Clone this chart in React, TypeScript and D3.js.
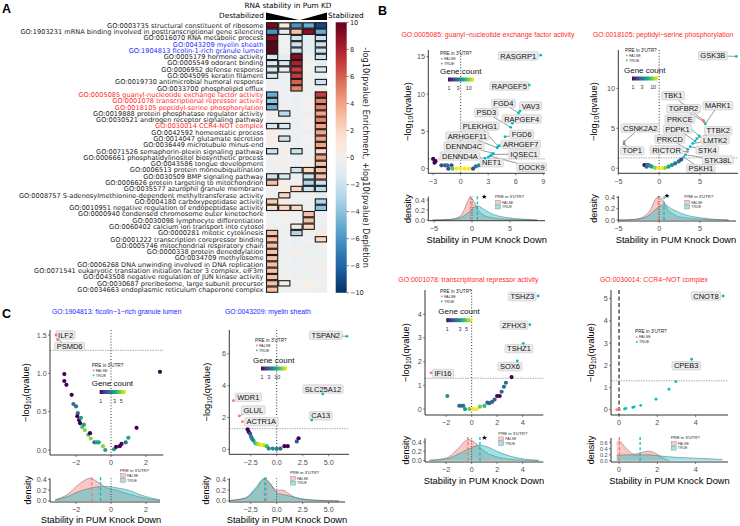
import React from 'react';
import * as d3 from 'd3';

const FALSE_COLOR = '#F8766D';
const TRUE_COLOR = '#00BFC4';
const SANS = '"Liberation Sans", Arial, sans-serif';
const DEJAVU = '"DejaVu Sans", sans-serif';
const RED_TXT = '#ff2a2a';
const BLUE_TXT = '#2626ff';

// ---------------- Panel A data ----------------
const goTerms: string[] = [
  'GO:0003735 structural constituent of ribosome',
  'GO:1903231 mRNA binding involved in posttranscriptional gene silencing',
  'GO:0016070 RNA metabolic process',
  'GO:0043209 myelin sheath',
  'GO:1904813 ficolin-1-rich granule lumen',
  'GO:0005179 hormone activity',
  'GO:0005549 odorant binding',
  'GO:0006952 defense response',
  'GO:0045095 keratin filament',
  'GO:0019730 antimicrobial humoral response',
  'GO:0033700 phospholipid efflux',
  'GO:0005085 guanyl-nucleotide exchange factor activity',
  'GO:0001078 transcriptional repressor activity',
  'GO:0018105 peptidyl-serine phosphorylation',
  'GO:0019888 protein phosphatase regulator activity',
  'GO:0030521 androgen receptor signaling pathway',
  'GO:0030014 CCR4-NOT complex',
  'GO:0042592 homeostatic process',
  'GO:0014047 glutamate secretion',
  'GO:0036449 microtubule minus-end',
  'GO:0071526 semaphorin-plexin signaling pathway',
  'GO:0006661 phosphatidylinositol biosynthetic process',
  'GO:0043586 tongue development',
  'GO:0006513 protein monoubiquitination',
  'GO:0030509 BMP signaling pathway',
  'GO:0006626 protein targeting to mitochondrion',
  'GO:0035577 azurophil granule membrane',
  'GO:0008757 S-adenosylmethionine-dependent methyltransferase activity',
  'GO:0004180 carboxypeptidase activity',
  'GO:0010951 negative regulation of endopeptidase activity',
  'GO:0000940 condensed chromosome outer kinetochore',
  'GO:0030098 lymphocyte differentiation',
  'GO:0060402 calcium ion transport into cytosol',
  'GO:0000281 mitotic cytokinesis',
  'GO:0001222 transcription corepressor binding',
  'GO:0005746 mitochondrial respiratory chain',
  'GO:0000338 protein deneddylation',
  'GO:0034709 methylosome',
  'GO:0006268 DNA unwinding involved in DNA replication',
  'GO:0071541 eukaryotic translation initiation factor 3 complex, eIF3m',
  'GO:0043508 negative regulation of JUN kinase activity',
  'GO:0030687 preribosome, large subunit precursor',
  'GO:0034663 endoplasmic reticulum chaperone complex',
];
const redTermRows = [11, 12, 13, 16];
const blueTermRows = [3, 4];

const heatValues: number[][] = [
  [9.5, 1, -6, -5, -9],
  [-6, -1, 3, 9, -5],
  [9, -0.3, -2, -1, -2],
  [10, -0.3, -2, -1, -2],
  [10, -0.3, -2, -1, -2],
  [-1.5, -1, 9, -0.3, -2],
  [-1.5, -1.5, 8, 0, -1],
  [-1.5, -0.5, 7, -0.3, -1.5],
  [-1.5, -0.5, 7, -0.3, -0.5],
  [-0.5, -0.5, 6, -0.3, -2],
  [-0.3, -0.5, 5, -0.3, -0.5],
  [-5, -0.3, -0.5, -0.5, 7],
  [-4, -0.3, -0.5, 0, 5],
  [-5, -0.3, -0.5, 0, 5],
  [0.5, -2.5, -0.3, -0.5, 4],
  [-0.3, -0.3, -0.5, 0, 5],
  [-1.5, -1.5, -0.3, 0, 4],
  [0.5, -0.3, -0.5, -0.5, 4],
  [0.5, -2, -0.5, 0, 4],
  [0.5, -0.3, -0.5, -0.3, 4],
  [-2, 0.5, -2, -0.5, 2],
  [-0.3, -0.3, -0.5, -0.5, 4],
  [-0.3, 0.5, -0.5, 0.5, 3],
  [-0.3, -0.5, -2, 2, 3],
  [-2, -1.5, -0.3, -2, 3],
  [3, 0.5, -0.3, -3, -2],
  [-0.3, 0.5, 2, -2, -2.5],
  [-0.3, 2, -0.3, -0.3, -1],
  [2.5, 0.5, -0.3, -0.3, -3],
  [1.5, 2, 2, -0.3, -4],
  [-0.3, 0.5, -0.3, 3, -0.5],
  [-0.3, -0.3, -0.3, 3, -0.5],
  [-0.3, -0.3, 0.5, 2, -0.5],
  [3, -0.3, -3, -0.3, 1],
  [3, -0.3, -0.5, -0.3, 2],
  [3, -0.3, -0.5, -0.5, -0.3],
  [3, -0.3, 0.5, -0.5, -0.5],
  [3, -0.3, -0.5, -0.3, -0.5],
  [3, -0.3, -0.5, -0.3, -0.5],
  [3, -0.3, -0.3, -0.3, 0.5],
  [3, -0.3, -0.5, -0.3, -0.5],
  [3, 0.5, -0.3, 0.5, -0.3],
  [3, -0.3, -0.3, 0.5, -0.5],
];
const heatSignificant: number[][] = [
  [1, 1, 1, 1, 1],
  [1, 1, 1, 1, 1],
  [1, 0, 1, 0, 1],
  [1, 0, 1, 0, 1],
  [1, 0, 1, 0, 1],
  [1, 0, 1, 0, 1],
  [1, 1, 1, 0, 0],
  [1, 1, 1, 0, 1],
  [1, 0, 1, 0, 0],
  [0, 0, 1, 0, 1],
  [0, 0, 1, 0, 0],
  [1, 0, 0, 0, 1],
  [1, 0, 0, 0, 1],
  [1, 0, 0, 0, 1],
  [0, 1, 0, 0, 1],
  [0, 0, 0, 0, 1],
  [1, 1, 0, 0, 1],
  [0, 0, 0, 0, 1],
  [0, 1, 0, 0, 1],
  [0, 0, 0, 0, 1],
  [1, 0, 1, 0, 1],
  [0, 0, 0, 0, 1],
  [0, 0, 0, 0, 1],
  [0, 0, 1, 1, 1],
  [1, 1, 0, 1, 1],
  [1, 0, 0, 1, 1],
  [0, 0, 1, 1, 1],
  [0, 1, 0, 0, 0],
  [1, 0, 0, 0, 1],
  [1, 1, 1, 0, 1],
  [0, 0, 0, 1, 0],
  [0, 0, 0, 1, 0],
  [0, 0, 1, 1, 0],
  [1, 0, 1, 0, 0],
  [1, 0, 0, 0, 1],
  [1, 0, 0, 0, 0],
  [1, 0, 0, 0, 0],
  [1, 0, 0, 0, 0],
  [1, 0, 0, 0, 0],
  [1, 0, 0, 0, 0],
  [1, 0, 0, 0, 0],
  [1, 1, 0, 0, 0],
  [1, 0, 0, 0, 0],
];
const heatColorTicks = [10, 8, 6, 4, 2, 0, -2, -4, -6, -8, -10];

// ---------------- Panel B / C data ----------------
type Gene = { gene: string; x: number; y: number; pre: boolean; lx: number; ly: number };
type CountPt = [number, number, number];
type PrePt = [number, number, boolean];
type DPt = [number, number];

const titleB1 = 'GO:0005085: guanyl\u2212nucleotide exchange factor activity';
const titleB2 = 'GO:0018105: peptidyl\u2212serine phosphorylation';
const titleB3 = 'GO:0001078: transcriptional repressor activity';
const titleB4 = 'GO:0030014: CCR4\u2212NOT complex';
const titleC1 = 'GO:1904813: ficolin\u22121\u2212rich granule lumen';
const titleC2 = 'GO:0043209: myelin sheath';

// B1: guanyl-nucleotide exchange factor activity
const b1Counts: CountPt[] = [
  [-3.0, 1.3, 1], [-2.75, 1.0, 1], [-2.85, 0.8, 1], [-2.1, 0.45, 2], [-1.7, 0.45, 2], [-1.45, 0.45, 3],
  [-1.0, 0.45, 2], [-1.35, 0.0, 2], [-0.9, 0.0, 8], [-0.45, 0.0, 18], [0.0, 0.0, 18], [0.45, 0.0, 18],
  [0.9, 0.0, 18], [1.35, 0.0, 2], [1.65, 0.3, 3], [2.0, 0.45, 4], [2.3, 0.5, 4], [2.6, 0.7, 3], [2.9, 0.9, 4],
];
const b1Genes: Gene[] = [
  { gene: 'RASGRP1', x: 8.72, y: 15.2, pre: true, lx: 6.28, ly: 15.1 },
  { gene: 'RAPGEF5', x: 7.48, y: 11.2, pre: true, lx: 5.3, ly: 11.07 },
  { gene: 'VAV3', x: 6.45, y: 7.7, pre: true, lx: 7.63, ly: 8.4 },
  { gene: 'FGD4', x: 6.3, y: 7.45, pre: true, lx: 4.65, ly: 8.75 },
  { gene: 'RAPGEF4', x: 5.63, y: 6.07, pre: true, lx: 6.65, ly: 6.65 },
  { gene: 'PSD3', x: 5.45, y: 5.54, pre: true, lx: 2.8, ly: 7.5 },
  { gene: 'FGD6', x: 4.83, y: 4.28, pre: true, lx: 6.65, ly: 4.6 },
  { gene: 'PLEKHG1', x: 4.1, y: 3.0, pre: true, lx: 2.1, ly: 5.7 },
  { gene: 'ARHGEF11', x: 3.98, y: 2.8, pre: true, lx: 0.72, ly: 4.38 },
  { gene: 'ARHGEF7', x: 4.2, y: 3.1, pre: true, lx: 6.54, ly: 3.26 },
  { gene: 'DENND4C', x: 3.56, y: 2.06, pre: true, lx: 0.36, ly: 3.04 },
  { gene: 'IQSEC1', x: 3.4, y: 1.9, pre: true, lx: 6.9, ly: 1.97 },
  { gene: 'DENND4A', x: 2.65, y: 1.4, pre: true, lx: -0.08, ly: 1.7 },
  { gene: 'NET1', x: 3.0, y: 1.55, pre: true, lx: 3.38, ly: 0.8 },
  { gene: 'DOCK9', x: 3.2, y: 1.7, pre: true, lx: 7.74, ly: 0.19 },
];
const b1DensFalse: DPt[] = [[-5.2, 0], [-3, 0.01], [-2, 0.04], [-1.2, 0.15], [-0.6, 0.36], [-0.25, 0.45], [0.2, 0.38], [0.8, 0.2], [1.5, 0.1], [2.5, 0.05], [4, 0.02], [6, 0.01], [8.6, 0]];
const b1DensTrue: DPt[] = [[-5.2, 0], [-3, 0.01], [-1.5, 0.05], [-0.5, 0.15], [0.3, 0.26], [0.8, 0.28], [1.5, 0.22], [2.5, 0.13], [3.5, 0.08], [5, 0.04], [7, 0.015], [8.6, 0]];

// B2: peptidyl-serine phosphorylation
const b2Counts: CountPt[] = [
  [-1.8, 0.4, 1], [-1.5, 0.4, 2], [-1.55, 0.2, 3], [-1.3, 0.4, 3], [-1.1, 0.3, 4], [-0.9, 0.2, 5], [-0.5, 0.05, 10],
  [-0.1, 0, 17], [0.33, 0, 17], [0.74, 0.05, 10], [1.15, 0.2, 5], [1.56, 0.4, 4], [1.96, 0.6, 3], [2.4, 0.85, 3], [2.7, 1.1, 2],
];
const b2Genes: Gene[] = [
  { gene: 'GSK3B', x: 9.45, y: 14.0, pre: true, lx: 6.57, ly: 14.08 },
  { gene: 'TBK1', x: 5.4, y: 6.0, pre: false, lx: 1.71, ly: 9.08 },
  { gene: 'TGFBR2', x: 5.5, y: 5.8, pre: false, lx: 2.98, ly: 7.45 },
  { gene: 'MARK1', x: 5.65, y: 5.55, pre: true, lx: 7.18, ly: 7.83 },
  { gene: 'PRKCE', x: 4.9, y: 4.04, pre: true, lx: 2.53, ly: 6.16 },
  { gene: 'CSNK2A2', x: -4.28, y: 3.33, pre: false, lx: -2.33, ly: 5.04 },
  { gene: 'PDPK1', x: 4.4, y: 3.4, pre: true, lx: 2.24, ly: 4.91 },
  { gene: 'TTBK2', x: 4.6, y: 3.7, pre: true, lx: 7.22, ly: 4.7 },
  { gene: 'PRKCD', x: 3.5, y: 2.37, pre: true, lx: 1.31, ly: 3.66 },
  { gene: 'LMTK2', x: 4.1, y: 3.1, pre: true, lx: 6.85, ly: 3.54 },
  { gene: 'TOP1', x: -4.3, y: 3.05, pre: true, lx: -3.3, ly: 2.2 },
  { gene: 'RICTOR', x: 3.46, y: 2.08, pre: false, lx: 0.9, ly: 2.29 },
  { gene: 'STK4', x: 3.8, y: 2.7, pre: true, lx: 5.9, ly: 2.29 },
  { gene: 'STK38L', x: 3.2, y: 1.7, pre: true, lx: 7.18, ly: 1.04 },
  { gene: 'PSKH1', x: 3.0, y: 1.4, pre: true, lx: 5.1, ly: -0.05 },
];
const b2DensFalse: DPt[] = [[-5, 0], [-3, 0.01], [-2, 0.05], [-1, 0.2], [-0.4, 0.38], [0, 0.42], [0.4, 0.36], [1, 0.2], [2, 0.08], [3, 0.04], [5, 0.015], [8.5, 0]];
const b2DensTrue: DPt[] = [[-5, 0], [-3, 0.01], [-1.5, 0.06], [-0.5, 0.18], [0.3, 0.26], [0.7, 0.27], [1.5, 0.2], [2.5, 0.13], [3.5, 0.08], [5, 0.04], [7, 0.01], [8.5, 0]];

// B3: transcriptional repressor activity
const b3Counts: CountPt[] = [
  [-1.91, 0.55, 3], [-0.97, 0.14, 2], [-0.8, 0.14, 2], [-0.66, 0.14, 2], [-0.52, 0, 3], [-0.18, 0, 5], [0.13, 0, 8],
  [0.39, 0, 8], [0.65, 0.1, 5], [1.0, 0.13, 4], [1.23, 0.27, 2], [1.39, 0.25, 2], [1.6, 0.3, 2], [1.8, 0.4, 2],
  [2.0, 0.55, 1], [2.2, 0.55, 1], [2.35, 0.73, 2], [2.53, 0.94, 2], [2.69, 1.11, 2], [3.13, 1.35, 1],
];
const b3Genes: Gene[] = [
  { gene: 'TSHZ3', x: 5.22, y: 4.77, pre: true, lx: 3.97, ly: 4.74 },
  { gene: 'ZFHX3', x: 4.57, y: 3.56, pre: true, lx: 3.32, ly: 3.54 },
  { gene: 'TSHZ1', x: 4.05, y: 2.77, pre: true, lx: 3.71, ly: 2.55 },
  { gene: 'SOX6', x: 3.58, y: 2.03, pre: true, lx: 3.0, ly: 1.79 },
  { gene: 'IFI16', x: -3.19, y: 1.53, pre: false, lx: -2.25, ly: 1.5 },
];
const b3DensFalse: DPt[] = [[-3.3, 0.01], [-2.5, 0.03], [-1.8, 0.08], [-1, 0.28], [-0.4, 0.44], [-0.2, 0.45], [0.3, 0.38], [1, 0.2], [2, 0.08], [3, 0.03], [4, 0.01], [5.2, 0]];
const b3DensTrue: DPt[] = [[-3.3, 0.01], [-2.5, 0.02], [-1.8, 0.05], [-1, 0.15], [0, 0.28], [0.6, 0.33], [1.2, 0.3], [2, 0.2], [3, 0.1], [4, 0.04], [5.3, 0.01]];

// B4: CCR4-NOT complex
const b4Points: PrePt[] = [
  [2.97, 1.26, true], [2.61, 0.92, true], [1.93, 0.47, true], [1.13, 0.19, true], [0.79, 0.13, true],
  [0.72, 0.1, true], [0.36, 0.06, true], [0.29, 0.03, true], [-0.12, 0, false], [0.02, 0, false],
];
const b4Genes: Gene[] = [
  { gene: 'CNOT8', x: 5.44, y: 5.12, pre: true, lx: 4.54, ly: 5.12 },
  { gene: 'CPEB3', x: 3.79, y: 2.27, pre: true, lx: 3.51, ly: 1.98 },
];
const b4DensFalse: DPt[] = [[-0.12, 0.6], [0, 0.66], [0.3, 0.46], [0.8, 0.22], [1.2, 0.28], [1.5, 0.32], [1.9, 0.25], [2.3, 0.08], [2.6, 0.01]];
const b4DensTrue: DPt[] = [[-0.12, 0.18], [0.5, 0.2], [1, 0.19], [1.5, 0.2], [2, 0.17], [2.6, 0.13], [3.5, 0.1], [4.5, 0.07], [5.4, 0.04]];

// C1: ficolin-1-rich granule lumen
const c1Counts: CountPt[] = [
  [-2.67, 0.99, 1], [-2.67, 0.9, 1], [-2.55, 0.85, 1], [-2.25, 0.72, 1], [-2.15, 0.6, 2], [-2.0, 0.57, 2],
  [-1.9, 0.48, 2], [-1.93, 0.44, 1], [-1.83, 0.39, 1], [-1.77, 0.35, 1], [-1.72, 0.42, 3], [-1.65, 0.3, 4],
  [-1.55, 0.33, 3], [-1.5, 0.26, 5], [-1.3, 0.2, 4], [-1.2, 0.22, 1], [-1.16, 0.15, 5], [-0.95, 0.1, 2],
  [-0.8, 0.1, 3], [-0.7, 0.1, 3], [-0.46, 0.05, 5], [-0.33, 0.0, 3], [0.17, 0.01, 3], [0.29, 0.04, 1],
  [0.5, 0.05, 1], [0.6, 0.08, 1], [0.84, 0.1, 2], [0.99, 0.16, 3], [1.46, 0.29, 1], [2.8, 1.02, 1],
];
const c1Genes: Gene[] = [
  { gene: 'ILF2', x: -3.15, y: 1.5, pre: false, lx: -2.6, ly: 1.5 },
  { gene: 'PSMD6', x: -3.05, y: 1.44, pre: false, lx: -2.37, ly: 1.35 },
];
const c1DensFalse: DPt[] = [[-3.2, 0.02], [-2.5, 0.12], [-1.8, 0.32], [-1.2, 0.42], [-0.8, 0.36], [-0.3, 0.25], [0.3, 0.2], [1, 0.13], [1.8, 0.06], [2.8, 0.01]];
const c1DensTrue: DPt[] = [[-3.2, 0.02], [-2.5, 0.08], [-1.8, 0.18], [-1, 0.25], [-0.3, 0.27], [0.4, 0.24], [1, 0.2], [1.8, 0.1], [2.8, 0.02]];

// C2: myelin sheath
const c2Counts: CountPt[] = [
  [-2.8, 1.26, 1], [-2.7, 1.1, 1], [-2.56, 0.98, 2], [-2.47, 0.8, 5], [-2.35, 0.65, 4], [-2.25, 0.55, 6],
  [-2.05, 0.38, 13], [-1.85, 0.33, 20], [-1.67, 0.3, 30], [-1.4, 0.28, 40], [-1.19, 0.25, 30], [-0.96, 0.2, 13],
  [-0.77, 0.05, 6], [-0.38, 0.05, 6], [0.0, 0.03, 5], [0.35, 0.05, 4], [0.74, 0.2, 1], [1.06, 0.2, 1],
  [1.93, 0.5, 3], [2.1, 0.7, 1],
];
const c2Genes: Gene[] = [
  { gene: 'TSPAN2', x: 6.75, y: 7.1, pre: true, lx: 4.71, ly: 7.17 },
  { gene: 'SLC25A12', x: 4.42, y: 3.48, pre: true, lx: 4.45, ly: 3.79 },
  { gene: 'CA13', x: 3.37, y: 1.84, pre: true, lx: 4.23, ly: 2.11 },
  { gene: 'WDR1', x: -4.17, y: 3.06, pre: false, lx: -2.73, ly: 3.27 },
  { gene: 'GLUL', x: -3.6, y: 2.1, pre: false, lx: -2.25, ly: 2.47 },
  { gene: 'ACTR1A', x: -3.3, y: 1.74, pre: false, lx: -1.48, ly: 1.74 },
];
const c2DensFalse: DPt[] = [[-4.5, 0.01], [-3, 0.05], [-2, 0.22], [-1.2, 0.4], [-0.7, 0.33], [0, 0.2], [0.6, 0.2], [1.2, 0.13], [2, 0.05], [3, 0.02], [4.5, 0.01], [6, 0]];
const c2DensTrue: DPt[] = [[-4.5, 0.01], [-3, 0.06], [-2, 0.25], [-1.2, 0.42], [-0.6, 0.32], [0, 0.15], [0.6, 0.12], [1.5, 0.08], [2.5, 0.04], [4, 0.01], [6, 0]];

// ---------------- helpers ----------------
let _ctx: CanvasRenderingContext2D | null = null;
function textWidth(s: string, size: number, family = SANS): number {
  if (!_ctx) _ctx = document.createElement('canvas').getContext('2d');
  if (!_ctx) return s.length * size * 0.6;
  _ctx.font = `${size}px ${family}`;
  return _ctx.measureText(s).width;
}
function fmt(v: number, digits = 0): string {
  const s = digits ? Math.abs(v).toFixed(digits) : String(Math.abs(v));
  return v < 0 ? '\u2212' + s : s;
}
const TICK_COL = '#4d4d4d';

type AxisProps = {
  xs: d3.ScaleLinear<number, number>; ys: d3.ScaleLinear<number, number>;
  frame: [number, number, number, number];
  xTicks: number[]; yTicks: number[]; xDigits?: number; yDigits?: number; yFont?: number;
};
function Axes({ xs, ys, frame, xTicks, yTicks, xDigits = 0, yDigits = 0, yFont = 7.2 }: AxisProps) {
  const [x0, x1, y0, y1] = frame;
  return (
    <g fontFamily={SANS}>
      <line x1={x0} x2={x0} y1={y0} y2={y1} stroke="#000" strokeWidth={0.8} />
      <line x1={x0} x2={x1} y1={y1} y2={y1} stroke="#000" strokeWidth={0.8} />
      {yTicks.map((t) => (
        <g key={'y' + t}>
          <line x1={x0 - 2} x2={x0} y1={ys(t)} y2={ys(t)} stroke="#333" strokeWidth={0.6} />
          <text x={x0 - 3.3} y={ys(t) + yFont * 0.35} fontSize={yFont} fill={TICK_COL} textAnchor="end">{fmt(t, yDigits)}</text>
        </g>
      ))}
      {xTicks.map((t) => (
        <g key={'x' + t}>
          <line x1={xs(t)} x2={xs(t)} y1={y1} y2={y1 + 2} stroke="#333" strokeWidth={0.6} />
          <text x={xs(t)} y={y1 + 10.3} fontSize={7.2} fill={TICK_COL} textAnchor="middle">{fmt(t, xDigits)}</text>
        </g>
      ))}
    </g>
  );
}

type ScatterProps = {
  title: string; titleColor: string; titleX: number; titleY: number;
  frame: [number, number, number, number];
  xDomain: [number, number]; yDomain: [number, number];
  xTicks: number[]; yTicks: number[]; xDigits?: number; yDigits?: number;
  counts?: CountPt[]; countMax?: number; countLabels?: number[];
  prePoints?: PrePt[];
  genes: Gene[];
  zeroDashed?: boolean;
  yTitleX: number;
  preLegend: [number, number];
  countLegend?: [number, number];
};

function ScatterPanel(p: ScatterProps) {
  const [x0, x1, y0, y1] = p.frame;
  const xs = d3.scaleLinear().domain(p.xDomain).range([x0, x1]);
  const ys = d3.scaleLinear().domain(p.yDomain).range([y1, y0]);
  const cmax = p.countMax || 10;
  const cpos = (c: number) => Math.log(c) / Math.log(cmax);
  const ccol = (c: number) => d3.interpolateViridis(Math.min(1, cpos(c)));
  const LFS = 7.5;
  const boxes = p.genes.map((g) => {
    const w = textWidth(g.gene, LFS) + 4;
    const h = 8.4;
    const cx = xs(g.lx), cy = ys(g.ly);
    const px = xs(g.x), py = ys(g.y);
    const dx = px - cx, dy = py - cy;
    const s = Math.max(Math.abs(dx) / (w / 2), Math.abs(dy) / (h / 2));
    let seg: [number, number, number, number] | null = null;
    if (s > 1) {
      const ex = cx + dx / s, ey = cy + dy / s;
      const dist = Math.hypot(px - ex, py - ey);
      if (dist > 4) seg = [px, py, ex, ey];
    }
    return { g, w, h, cx, cy, px, py, seg };
  });
  return (
    <g>
      <text x={p.titleX} y={p.titleY} fontSize={6.9} fill={p.titleColor} fontFamily={SANS}>{p.title}</text>
      <line x1={x0} x2={x1} y1={ys(1.3)} y2={ys(1.3)} stroke="#666" strokeWidth={0.6} strokeDasharray="1.4,1.1" />
      {p.zeroDashed ? (
        <line x1={xs(0)} x2={xs(0)} y1={y0} y2={y1} stroke="#444" strokeWidth={1.4} strokeDasharray="4,2.5" />
      ) : (
        <line x1={xs(0)} x2={xs(0)} y1={y0} y2={y1} stroke="#000" strokeWidth={0.9} strokeDasharray="0.9,2" />
      )}
      {(p.counts || []).map((c, i) => (
        <circle key={'c' + i} cx={xs(c[0])} cy={ys(c[1])} r={2.1} fill={ccol(c[2])} />
      ))}
      {(p.prePoints || []).map((c, i) => (
        <circle key={'p' + i} cx={xs(c[0])} cy={ys(c[1])} r={1.4} fill={c[2] ? TRUE_COLOR : FALSE_COLOR} />
      ))}
      {boxes.map((b, i) => b.seg ? (
        <line key={'s' + i} x1={b.seg[0]} y1={b.seg[1]} x2={b.seg[2]} y2={b.seg[3]} stroke="#333" strokeWidth={0.5} />
      ) : null)}
      {boxes.map((b, i) => (
        <g key={'b' + i}>
          <rect x={b.cx - b.w / 2} y={b.cy - b.h / 2} width={b.w} height={b.h} rx={1.3} fill="#ebebeb" stroke="#bdbdbd" strokeWidth={0.5} />
          <text x={b.cx} y={b.cy + 2.7} fontSize={LFS} textAnchor="middle" fontFamily={SANS} fill="#111">{b.g.gene}</text>
        </g>
      ))}
      {boxes.map((b, i) => (
        <circle key={'g' + i} cx={b.px} cy={b.py} r={1.4} fill={b.g.pre ? TRUE_COLOR : FALSE_COLOR} />
      ))}
      <Axes xs={xs} ys={ys} frame={p.frame} xTicks={p.xTicks} yTicks={p.yTicks} xDigits={p.xDigits} yDigits={p.yDigits} />
      <text transform={`translate(${p.yTitleX},${(y0 + y1) / 2}) rotate(-90)`} textAnchor="middle" fontSize={9.3} fontFamily={SANS}>
        {'\u2212log'}<tspan fontSize={6.6} dy={2.2}>10</tspan><tspan dy={-2.2}>(qvalue)</tspan>
      </text>
      <g fontFamily={SANS}>
        <text x={p.preLegend[0]} y={p.preLegend[1]} fontSize={4.7} fill="#222">PRE in 3'UTR?</text>
        <circle cx={p.preLegend[0] + 1.8} cy={p.preLegend[1] + 3.7} r={0.9} fill={FALSE_COLOR} />
        <text x={p.preLegend[0] + 4} y={p.preLegend[1] + 5} fontSize={3.8} fill="#333">FALSE</text>
        <circle cx={p.preLegend[0] + 1.8} cy={p.preLegend[1] + 8.6} r={0.9} fill={TRUE_COLOR} />
        <text x={p.preLegend[0] + 4} y={p.preLegend[1] + 9.9} fontSize={3.8} fill="#333">TRUE</text>
      </g>
      {p.countLegend && (
        <g fontFamily={SANS}>
          <text x={p.countLegend[0]} y={p.countLegend[1]} fontSize={8} fill="#111">Gene count</text>
          <rect x={p.countLegend[0] + 8} y={p.countLegend[1] + 4} width={26} height={4} fill="url(#viridisGrad)" />
          {(p.countLabels || []).map((v) => (
            <text key={v} x={p.countLegend![0] + 8 + 26 * cpos(v) + (v === 1 ? 1 : 0)} y={p.countLegend![1] + 16.5} fontSize={5.4} textAnchor="middle" fill="#333">{v}</text>
          ))}
        </g>
      )}
    </g>
  );
}

type DensityProps = {
  frame: [number, number, number, number];
  xDomain: [number, number]; yDomain: [number, number];
  xTicks: number[]; yTicks: number[]; xDigits?: number; yFont?: number;
  dFalse: DPt[]; dTrue: DPt[]; medFalse: number; medTrue: number; star?: number;
  zeroLine?: boolean; legend: [number, number]; yTitleX: number; xTitleX: number; xTitleY: number;
};
function DensityPanel(p: DensityProps) {
  const [x0, x1, y0, y1] = p.frame;
  const xs = d3.scaleLinear().domain(p.xDomain).range([x0, x1]);
  const ys = d3.scaleLinear().domain(p.yDomain).range([y1, y0]);
  const area = d3.area<DPt>().x((d) => xs(d[0])).y0(ys(0)).y1((d) => ys(d[1])).curve(d3.curveMonotoneX);
  const lineF = d3.line<DPt>().x((d) => xs(d[0])).y((d) => ys(d[1])).curve(d3.curveMonotoneX);
  const top = ys(p.yDomain[1]) - 2;
  return (
    <g>
      <path d={area(p.dFalse) || ''} fill={FALSE_COLOR} fillOpacity={0.4} />
      <path d={lineF(p.dFalse) || ''} fill="none" stroke="#444" strokeWidth={0.4} />
      <path d={area(p.dTrue) || ''} fill={TRUE_COLOR} fillOpacity={0.4} />
      <path d={lineF(p.dTrue) || ''} fill="none" stroke="#444" strokeWidth={0.4} />
      {p.zeroLine && <line x1={xs(0)} x2={xs(0)} y1={y0} y2={y1} stroke="#000" strokeWidth={0.8} strokeDasharray="0.8,1.8" />}
      <line x1={xs(p.medFalse)} x2={xs(p.medFalse)} y1={ys(0)} y2={top} stroke={FALSE_COLOR} strokeWidth={1.3} strokeDasharray="3,2.2" />
      <line x1={xs(p.medTrue)} x2={xs(p.medTrue)} y1={ys(0)} y2={top} stroke={TRUE_COLOR} strokeWidth={1.3} strokeDasharray="3,2.2" />
      {p.star !== undefined && (
        <text x={xs(p.star)} y={y0 + 2} fontSize={7} textAnchor="middle" fontFamily={DEJAVU}>{'\u2605'}</text>
      )}
      <Axes xs={xs} ys={ys} frame={p.frame} xTicks={p.xTicks} yTicks={p.yTicks} xDigits={p.xDigits} yDigits={1} yFont={p.yFont || 7.2} />
      <text transform={`translate(${p.yTitleX},${(y0 + y1) / 2}) rotate(-90)`} textAnchor="middle" fontSize={9} fontFamily={SANS}>density</text>
      <text x={p.xTitleX} y={p.xTitleY} textAnchor="middle" fontSize={9.3} fontFamily={SANS}>Stability in PUM Knock Down</text>
      <g fontFamily={SANS}>
        <text x={p.legend[0]} y={p.legend[1]} fontSize={4.3} fill="#222">PRE in 3'UTR?</text>
        <rect x={p.legend[0] + 0.5} y={p.legend[1] + 1.9} width={5} height={4} fill={FALSE_COLOR} fillOpacity={0.4} stroke="#666" strokeWidth={0.3} />
        <text x={p.legend[0] + 7} y={p.legend[1] + 5.2} fontSize={3.6} fill="#333">FALSE</text>
        <rect x={p.legend[0] + 0.5} y={p.legend[1] + 6.7} width={5} height={4} fill={TRUE_COLOR} fillOpacity={0.4} stroke="#666" strokeWidth={0.3} />
        <text x={p.legend[0] + 7} y={p.legend[1] + 10} fontSize={3.6} fill="#333">TRUE</text>
      </g>
    </g>
  );
}

function HeatmapPanel() {
  const x0 = 266, colW = 12.2, y0 = 22.3, rowH = 6.29;
  const nRows = goTerms.length;
  const xs = d3.scaleBand<number>().domain(d3.range(5)).range([x0, x0 + 5 * colW]);
  const ys = d3.scaleBand<number>().domain(d3.range(nRows)).range([y0, y0 + nRows * rowH]);
  const cscale = (v: number) => d3.interpolateRdBu((10 - v) / 20);
  const cbX = 335.7, cbW = 11;
  const cb = d3.scaleLinear().domain([10, -10]).range([y0, y0 + nRows * rowH]);
  const labelColor = (i: number) => (redTermRows.includes(i) ? RED_TXT : blueTermRows.includes(i) ? BLUE_TXT : '#1a1a1a');
  return (
    <g>
      <text x={2} y={13} fontSize={12.5} fontWeight="bold" fontFamily={SANS}>A</text>
      <text x={288} y={7.6} fontSize={7.3} textAnchor="middle" fontFamily={DEJAVU}>RNA stability in Pum KD</text>
      <text x={264} y={17.6} fontSize={7.3} textAnchor="end" fontFamily={DEJAVU}>Destabilized</text>
      <text x={328} y={17.6} fontSize={7.3} fontFamily={DEJAVU}>Stabilized</text>
      <polygon points={`${x0},12.6 ${x0},20 ${x0 + 33},20`} fill="#000" />
      <polygon points={`${x0 + 5 * colW},12.6 ${x0 + 5 * colW},20 ${x0 + 34},20`} fill="#000" />
      {goTerms.map((t, i) => (
        <text key={t} x={263.5} y={(ys(i) || 0) + rowH / 2 + 2.3} fontSize={6.6} textAnchor="end" fontFamily={DEJAVU} fill={labelColor(i)}>{t}</text>
      ))}
      {heatValues.map((row, i) => row.map((v, j) => (
        <rect key={i + '-' + j} x={xs(j)} y={ys(i)} width={xs.bandwidth() + 0.1} height={ys.bandwidth() + 0.1} fill={cscale(v)} />
      )))}
      {heatSignificant.map((row, i) => row.map((s, j) => s ? (
        <rect key={'s' + i + '-' + j} x={(xs(j) || 0) + 0.5} y={(ys(i) || 0) + 0.5} width={xs.bandwidth() - 1} height={ys.bandwidth() - 1} fill="none" stroke="#1a1a1a" strokeWidth={1.1} />
      ) : null))}
      <rect x={cbX} y={y0} width={cbW} height={nRows * rowH} fill="url(#heatGrad)" />
      {heatColorTicks.map((t) => (
        <g key={t}>
          <line x1={cbX + cbW} x2={cbX + cbW + 2} y1={cb(t)} y2={cb(t)} stroke="#222" strokeWidth={0.6} />
          <text x={cbX + cbW + 3.2} y={cb(t) + 2.4} fontSize={6.6} fontFamily={DEJAVU} fill="#222">{fmt(t)}</text>
        </g>
      ))}
      <text transform={`translate(362.5,${y0 + (nRows * rowH) / 2}) rotate(90)`} textAnchor="middle" fontSize={8.2} fontFamily={DEJAVU} fill="#222">-log10(pvalue) Enrichment, +log10(pvalue) Depletion</text>
    </g>
  );
}

export default function App() {
  const heatStops = d3.range(0, 1.0001, 0.05);
  const virStops = d3.range(0, 1.0001, 0.1);
  return (
    <svg width={740} height={526} style={{ position: 'absolute', left: 0, top: 0, background: '#fff' }}>
      <defs>
        <linearGradient id="heatGrad" x1="0" y1="0" x2="0" y2="1">
          {heatStops.map((s) => <stop key={s} offset={s} stopColor={d3.interpolateRdBu(s)} />)}
        </linearGradient>
        <linearGradient id="viridisGrad" x1="0" y1="0" x2="1" y2="0">
          {virStops.map((s) => <stop key={s} offset={s} stopColor={d3.interpolateViridis(s)} />)}
        </linearGradient>
      </defs>
      <rect width={740} height={526} fill="#fff" />
      <HeatmapPanel />

      <text x={378} y={15} fontSize={12.5} fontWeight="bold" fontFamily={SANS}>B</text>
      <text x={2} y={318} fontSize={12.5} fontWeight="bold" fontFamily={SANS}>C</text>

      {/* B1 */}
      <ScatterPanel title={titleB1} titleColor={RED_TXT} titleX={401.5} titleY={36.5}
        frame={[428.3, 545, 50, 173.3]} xDomain={[-3.53, 9.19]} yDomain={[-0.62, 15.9]}
        xTicks={[-3, 0, 3, 6, 9]} yTicks={[0, 5, 10, 15]} counts={b1Counts} countMax={18} countLabels={[1, 3, 10]}
        genes={b1Genes} yTitleX={411} preLegend={[440, 55]} countLegend={[440, 73.5]} />
      <DensityPanel frame={[428.3, 545, 196.7, 220.7]} xDomain={[-5.75, 9.6]} yDomain={[-0.014, 0.466]}
        xTicks={[-5, 0, 5]} yTicks={[0, 0.2, 0.4]} dFalse={b1DensFalse} dTrue={b1DensTrue} medFalse={-0.2} medTrue={0.7} star={1.6}
        zeroLine legend={[495, 198.3]} yTitleX={411} xTitleX={486.7} xTitleY={242.5} />

      {/* B2 */}
      <ScatterPanel title={titleB2} titleColor={RED_TXT} titleX={593} titleY={36.5}
        frame={[618.3, 738, 50, 173.3]} xDomain={[-5.0, 9.65]} yDomain={[-0.63, 14.8]}
        xTicks={[-5, 0, 5]} yTicks={[0, 5, 10]} counts={b2Counts} countMax={17} countLabels={[1, 3, 10]}
        genes={b2Genes} yTitleX={597} preLegend={[625, 51.7]} countLegend={[624, 72.5]} />
      <DensityPanel frame={[618.3, 736, 196, 221]} xDomain={[-5, 9.4]} yDomain={[-0.018, 0.425]}
        xTicks={[-5, 0, 5]} yTicks={[0, 0.2, 0.4]} dFalse={b2DensFalse} dTrue={b2DensTrue} medFalse={-0.1} medTrue={0.6} star={0.94}
        zeroLine legend={[684.3, 198.3]} yTitleX={597} xTitleX={676} xTitleY={242.5} />

      {/* B3 */}
      <ScatterPanel title={titleB3} titleColor={RED_TXT} titleX={398.3} titleY={282.3}
        frame={[425, 543.3, 290, 415]} xDomain={[-3.66, 5.62]} yDomain={[-0.25, 5.02]}
        xTicks={[-2, 0, 2, 4]} yTicks={[0, 1, 2, 3, 4]} counts={b3Counts} countMax={8} countLabels={[1, 3, 5]}
        genes={b3Genes} yTitleX={409} preLegend={[440, 292.7]} countLegend={[438.3, 314.2]} />
      <DensityPanel frame={[425, 543.3, 438.3, 462]} xDomain={[-3.66, 5.62]} yDomain={[-0.028, 0.48]}
        xTicks={[-2, 0, 2, 4]} yTicks={[0, 0.2, 0.4]} dFalse={b3DensFalse} dTrue={b3DensTrue} medFalse={-0.3} medTrue={0.65} star={0.99}
        zeroLine legend={[498.3, 435]} yTitleX={409} xTitleX={484} xTitleY={483.5} />

      {/* B4 */}
      <ScatterPanel title={titleB4} titleColor={RED_TXT} titleX={600} titleY={282.3}
        frame={[611, 728, 290, 415]} xDomain={[-0.42, 5.69]} yDomain={[-0.24, 5.39]}
        xTicks={[0, 2, 4]} yTicks={[0, 1, 2, 3, 4, 5]} prePoints={b4Points}
        genes={b4Genes} zeroDashed yTitleX={594} preLegend={[635, 333.4]} />
      <DensityPanel frame={[611, 728, 438, 462]} xDomain={[-0.42, 5.69]} yDomain={[-0.043, 0.757]}
        xTicks={[0, 2, 4]} yTicks={[0, 0.2, 0.4, 0.6]} yFont={5.6} dFalse={b4DensFalse} dTrue={b4DensTrue} medFalse={0.02} medTrue={1.1}
        legend={[670.7, 439.4]} yTitleX={594} xTitleX={669.5} xTitleY={483.5} />

      {/* C1 */}
      <ScatterPanel title={titleC1} titleColor={BLUE_TXT} titleX={52} titleY={314}
        frame={[50, 163.3, 330, 455]} xDomain={[-3.49, 2.99]} yDomain={[-0.065, 1.565]}
        xTicks={[-2, 0, 2]} yTicks={[0, 0.5, 1, 1.5]} yDigits={1} counts={c1Counts} countMax={7} countLabels={[1, 3, 5]}
        genes={c1Genes} yTitleX={29} preLegend={[91.7, 366.7]} countLegend={[91.7, 386]} />
      <DensityPanel frame={[50, 160, 478.3, 502]} xDomain={[-3.49, 2.8]} yDomain={[-0.019, 0.42]}
        xTicks={[-2, 0, 2]} yTicks={[0, 0.2, 0.4]} dFalse={c1DensFalse} dTrue={c1DensTrue} medFalse={-1.1} medTrue={-0.6}
        zeroLine legend={[120, 471.7]} yTitleX={31} xTitleX={101} xTitleY={523} />

      {/* C2 */}
      <ScatterPanel title={titleC2} titleColor={BLUE_TXT} titleX={225} titleY={314}
        frame={[229.3, 349, 330, 454.3]} xDomain={[-4.56, 6.95]} yDomain={[-0.31, 7.5]}
        xTicks={[-2.5, 0, 2.5, 5]} yTicks={[0, 2, 4, 6]} xDigits={1} counts={c2Counts} countMax={40} countLabels={[1, 3, 10]}
        genes={c2Genes} yTitleX={210} preLegend={[255, 341.7]} countLegend={[253, 362.5]} />
      <DensityPanel frame={[229.3, 345, 478.3, 502]} xDomain={[-4.56, 6.57]} yDomain={[-0.019, 0.42]}
        xTicks={[-2.5, 0, 2.5, 5]} xDigits={1} yTicks={[0, 0.2, 0.4]} dFalse={c2DensFalse} dTrue={c2DensTrue} medFalse={-1.0} medTrue={-1.15}
        zeroLine legend={[290, 474.4]} yTitleX={209} xTitleX={287} xTitleY={523} />
    </svg>
  );
}
